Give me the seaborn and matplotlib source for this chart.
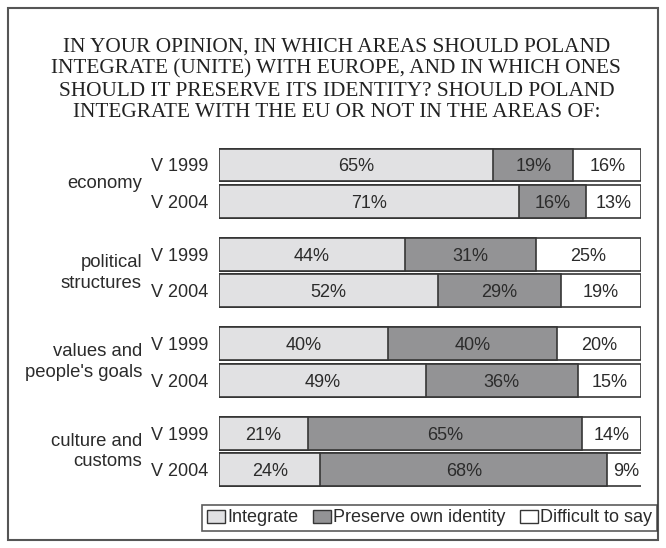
import matplotlib
matplotlib.use("Agg")
import matplotlib.pyplot as plt
from matplotlib.patches import Patch, Rectangle
from matplotlib import transforms
import numpy as np
import pandas as pd
import seaborn as sns

# Survey results (percent of respondents)
areas = ["economy", "political\nstructures", "values and\npeople's goals", "culture and\ncustoms"]
years = ["V 1999", "V 2004"]
integrate = [65, 71, 44, 52, 40, 49, 21, 24]
preserve = [19, 16, 31, 29, 40, 36, 65, 68]
difficult = [16, 13, 25, 19, 20, 15, 14, 9]
series_names = ["Integrate", "Preserve own identity", "Difficult to say"]
colors = ["#e1e1e3", "#939395", "#ffffff"]

title = ("IN YOUR OPINION, IN WHICH AREAS SHOULD POLAND\n"
         "INTEGRATE (UNITE) WITH EUROPE, AND IN WHICH ONES\n"
         "SHOULD IT PRESERVE ITS IDENTITY? SHOULD POLAND\n"
         "INTEGRATE WITH THE EU OR NOT IN THE AREAS OF:")

sns.set_theme(style="white")
plt.rcParams["font.family"] = ["Liberation Sans", "DejaVu Sans"]

edge = "#363636"
txt = "#2b2b2b"
group_step = 2.45

# row positions: two survey waves per area, extra space between areas
pos, labels = [], []
for g in range(len(areas)):
    for k, yr in enumerate(years):
        pos.append(g * group_step + k)
        labels.append(yr)

df = pd.DataFrame({
    "pos": pos,
    "integrate": integrate,
    "preserve": preserve,
    "difficult": difficult,
})
df["c1"] = df["integrate"]
df["c2"] = df["integrate"] + df["preserve"]
df["c3"] = df["c2"] + df["difficult"]

fig = plt.figure(figsize=(6.66, 5.48), dpi=100)
ax = fig.add_axes([219 / 666, 1 - 488 / 548, (641 - 219) / 666, (488 - 146.75) / 548])

# stacked bars drawn back to front: full length, then first two, then first
for col, c in zip(["c3", "c2", "c1"], colors[::-1]):
    sns.barplot(data=df, x=col, y="pos", orient="h", native_scale=True,
                color=c, saturation=1, width=0.9, edgecolor=edge,
                linewidth=1.2, ax=ax)

ax.set_xlim(0, 100)
ax.set_ylim(group_step * 3 + 1.5, -0.5)
ax.set_xlabel("")
ax.set_ylabel("")
ax.set_xticks([])
ax.set_yticks(pos)
ax.set_yticklabels(labels, fontsize=13, color=txt)
ax.tick_params(axis="y", length=0, pad=8)
for s in ax.spines.values():
    s.set_visible(False)

# value labels centred in each segment
for i in range(len(pos)):
    starts = [0, integrate[i], integrate[i] + preserve[i]]
    vals = [integrate[i], preserve[i], difficult[i]]
    for st, v in zip(starts, vals):
        ax.text(st + v / 2, pos[i] + 0.05, f"{v}%", ha="center", va="center",
                fontsize=13, color=txt)

# area names to the left of the wave labels
blend = transforms.blended_transform_factory(fig.transFigure, ax.transData)
for g, name in enumerate(areas):
    ax.text(142 / 666, g * group_step + 0.5, name, transform=blend,
            ha="right", va="center", fontsize=13.3, color=txt, linespacing=1.3)

fig.text(0.505, 1 - 80 / 548, title, ha="center", va="center",
         family="Liberation Serif", fontsize=15.3, color="#222222", linespacing=1.2)

handles = [Patch(facecolor=c, edgecolor=edge, linewidth=1.0) for c in colors]
leg = fig.legend(handles, series_names, loc="center", ncol=3,
                 bbox_to_anchor=(429.5 / 666, 1 - 518 / 548), fontsize=13,
                 frameon=True, fancybox=False, handlelength=1.0, handleheight=0.7,
                 handletextpad=0.12, columnspacing=0.8, borderpad=0.25,
                 borderaxespad=0)
leg.get_frame().set_edgecolor("#333333")
leg.get_frame().set_linewidth(1.2)
for t in leg.get_texts():
    t.set_color(txt)

fig.patches.append(Rectangle((8 / 666, 1 - 540 / 548), 650 / 666, 532 / 548,
                             transform=fig.transFigure, fill=False,
                             edgecolor="#555555", linewidth=1.5))

fig.savefig("out.png", dpi=100)
